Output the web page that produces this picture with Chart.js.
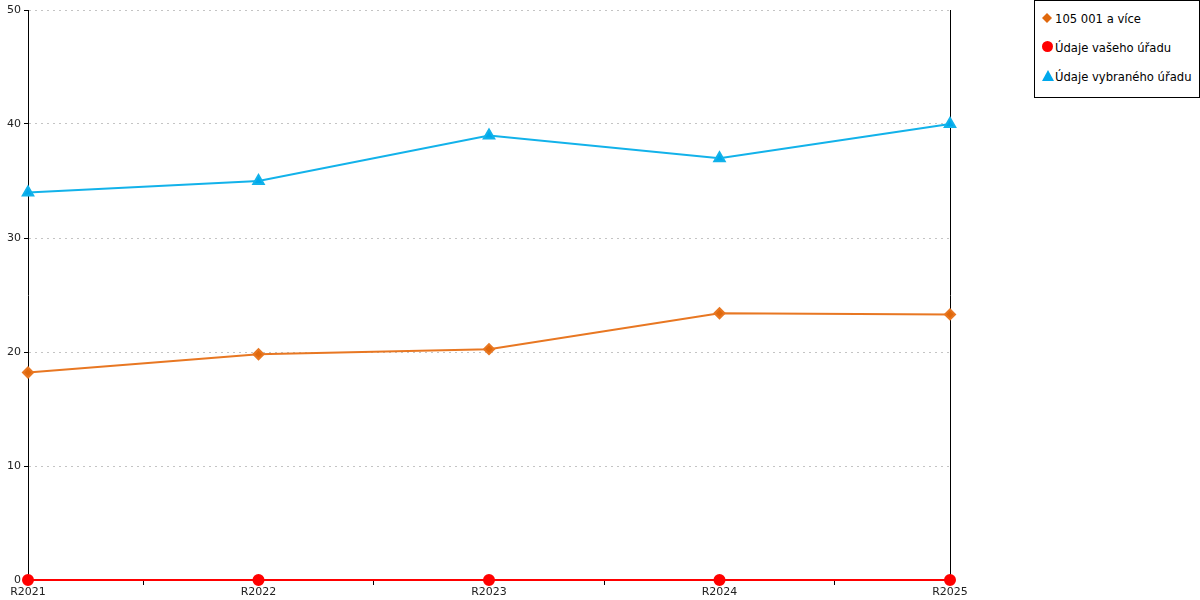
<!DOCTYPE html>
<html>
<head>
<meta charset="utf-8">
<script src="https://cdn.jsdelivr.net/npm/chart.js@4/dist/chart.umd.min.js"></script>
<style>
  html, body { margin: 0; padding: 0; background: #fff; }
  #wrap { position: relative; width: 1200px; height: 600px; }
  #legend {
    position: absolute; left: 1034px; top: 0; width: 164px; height: 96px;
    border: 1px solid #000; background: #fff;
    font: 11.6px "DejaVu Sans", Verdana, sans-serif; color: #000;
  }
  #legend div { position: absolute; left: 20px; white-space: nowrap; }
  #legend span.m { position: absolute; left: -13px; }
</style>
</head>
<body>
<div id="wrap">
  <canvas id="c" width="1200" height="600"></canvas>
  <div id="legend"></div>
</div>
<script>
const years = ["R2021", "R2022", "R2023", "R2024", "R2025"];
const band = [18.2, 19.8, 20.25, 23.4, 23.3];
const yourOffice = [0, 0, 0, 0, 0];
const chosenOffice = [34, 35, 39, 37, 40];
const yTicks = [0, 10, 20, 30, 40, 50];
const names = ["105 001 a více", "Údaje vašeho úřadu", "Údaje vybraného úřadu"];

const font = { family: "'DejaVu Sans', Verdana, sans-serif", size: 11 };

new Chart(document.getElementById("c"), {
  type: "line",
  data: {
    labels: years,
    datasets: [
      { label: names[0], data: band, borderColor: "#e87722", backgroundColor: "#e0680c",
        pointStyle: "rectRot", pointRadius: 5, borderWidth: 2, clip: false },
      { label: names[1], data: yourOffice, borderColor: "#ff0000", backgroundColor: "#ff0000",
        pointStyle: "circle", pointRadius: 5, borderWidth: 2, clip: false },
      { label: names[2], data: chosenOffice, borderColor: "#12b2ea", backgroundColor: "#00a8ec",
        pointStyle: "triangle", pointRadius: 6, borderWidth: 2, clip: false }
    ]
  },
  options: {
    responsive: false,
    animation: false,
    layout: { padding: { top: 10, right: 250, left: 0, bottom: 0 } },
    plugins: { legend: { display: false }, tooltip: { enabled: false } },
    elements: { point: { borderWidth: 0 }, line: { tension: 0 } },
    scales: {
      x: {
        offset: false,
        grid: { offset: true, drawOnChartArea: false, color: "#000", tickLength: 5 },
        border: { color: "#000", width: 1 },
        ticks: { color: "#222", font, padding: 1, maxRotation: 0, autoSkip: false },
        afterFit: s => { s.height = 20; }
      },
      y: {
        min: 0, max: 50,
        afterBuildTicks: s => { s.ticks = yTicks.map(v => ({ value: v })); },
        grid: { color: "#c4c4c4", tickColor: "#000", tickLength: 4, tickBorderDash: [] },
        border: { color: "#000", width: 1, dash: [2, 4] },
        ticks: { color: "#222", font, padding: 3 },
        afterFit: s => { s.width = 28; }
      },
      y2: {
        position: "right", min: 0, max: 50,
        grid: { display: false },
        border: { color: "#000", width: 1 },
        ticks: { display: false },
        afterFit: s => { s.width = 0; }
      }
    }
  }
});

// legend
const legend = document.getElementById("legend");
const markers = [
  '<svg width="10" height="10"><polygon points="5,0 10,5 5,10 0,5" fill="#e0680c"/></svg>',
  '<svg width="11" height="11"><circle cx="5.5" cy="5.5" r="5.5" fill="#ff0000"/></svg>',
  '<svg width="12" height="11"><polygon points="6,0 12,11 0,11" fill="#00a8ec"/></svg>'
];
const tops = [11, 40, 69];
names.forEach((n, i) => {
  const d = document.createElement("div");
  d.style.top = tops[i] + "px";
  d.innerHTML = '<span class="m">' + markers[i] + '</span>' + n;
  legend.appendChild(d);
});
</script>
</body>
</html>
